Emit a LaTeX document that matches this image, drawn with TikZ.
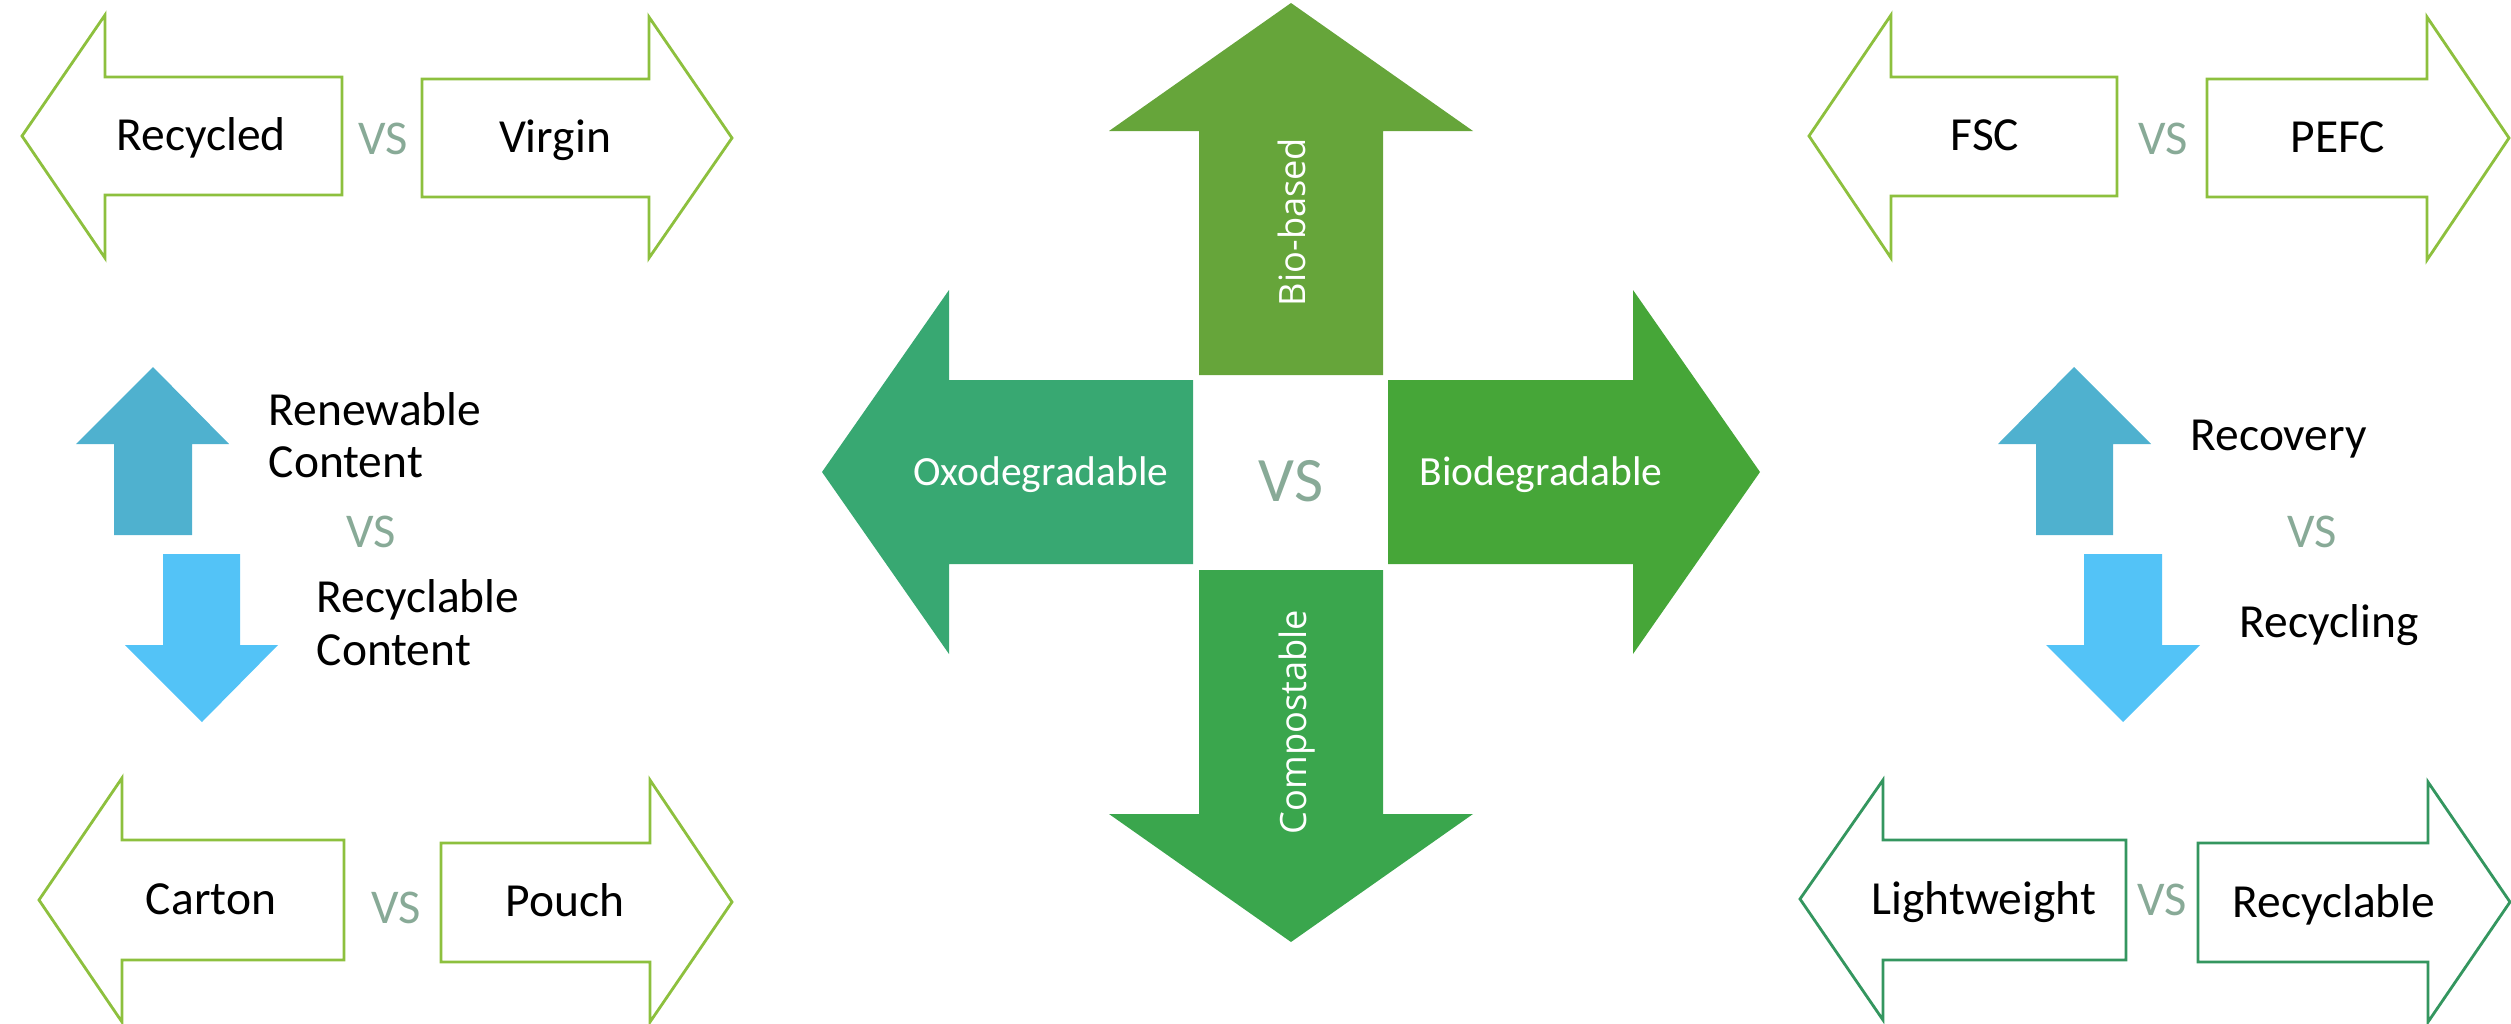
\documentclass[tikz,border=0pt]{standalone}
\usepackage{fontspec}
\setmainfont{Carlito}
\newfontfamily\rotfont{Open Sans}
\definecolor{limeline}{HTML}{8DC03E}
\definecolor{tealline}{HTML}{34965F}
\definecolor{biobased}{HTML}{66A53A}
\definecolor{compost}{HTML}{3AA64D}
\definecolor{oxo}{HTML}{38A872}
\definecolor{biodeg}{HTML}{46A638}
\definecolor{blueup}{HTML}{4FB1CF}
\definecolor{bluedown}{HTML}{53C3F7}
\definecolor{vsgrey}{HTML}{88AA97}
\begin{document}
\begin{tikzpicture}[x=0.01cm,y=-0.01cm,
  hollowarrow/.style={draw=#1, line width=0.8pt, line join=miter, fill=white},
  solidarrow/.style={fill=#1, draw=none},
  blacklabel/.style={inner sep=0pt, text=black, font=\fontsize{13.5}{14.8}\selectfont},
  vslabel/.style={inner sep=0pt, text=vsgrey, font=\fontsize{13.8}{15}\selectfont},
  bigvs/.style={inner sep=0pt, text=vsgrey, font=\fontsize{18}{20}\selectfont},
  whitelabel/.style={inner sep=0pt, text=white, font=\fontsize{11.8}{14}\selectfont},
  rotlabel/.style={inner sep=0pt, text=white, rotate=90, font=\rotfont\fontsize{10.3}{12}\selectfont}]
\useasboundingbox (0,0) rectangle (2511,1024);

% ---- top left: Recycled vs Virgin ----
\draw[hollowarrow=limeline] (342,77) -- (105,77) -- (105,15) -- (22,136) -- (105,258) -- (105,195) -- (342,195) -- cycle;
\draw[hollowarrow=limeline] (422,79) -- (649,79) -- (649,17) -- (732,138) -- (649,258) -- (649,197) -- (422,197) -- cycle;
\node[blacklabel, anchor=base] (recycled) at (201,150) {Recycled};
\node[blacklabel, anchor=base] (virgin) at (555,152) {Virgin};
\node[vslabel, anchor=base] (vs1) at (383,154) {VS};

% ---- top right: FSC vs PEFC ----
\draw[hollowarrow=limeline] (2117,77) -- (1891,77) -- (1891,15) -- (1809,136) -- (1891,258) -- (1891,196) -- (2117,196) -- cycle;
\draw[hollowarrow=limeline] (2207,79) -- (2427,79) -- (2427,17) -- (2509,138) -- (2427,260) -- (2427,197) -- (2207,197) -- cycle;
\node[blacklabel, anchor=base] (fsc) at (1985,150) {FSC};
\node[blacklabel, anchor=base] (pefc) at (2338,152) {PEFC};
\node[vslabel, anchor=base] (vs2) at (2163,154) {VS};

% ---- bottom left: Carton vs Pouch ----
\draw[hollowarrow=limeline] (344,840) -- (122,840) -- (122,778) -- (39,900) -- (122,1022) -- (122,960) -- (344,960) -- cycle;
\draw[hollowarrow=limeline] (441,843) -- (650,843) -- (650,780) -- (732,902) -- (650,1022) -- (650,962) -- (441,962) -- cycle;
\node[blacklabel, anchor=base] (carton) at (211,914) {Carton};
\node[blacklabel, anchor=base] (pouch) at (565,916) {Pouch};
\node[vslabel, anchor=base] (vs3) at (396,923) {VS};

% ---- bottom right: Lightweight vs Recyclable ----
\draw[hollowarrow=tealline] (2126,840) -- (1883,840) -- (1883,780) -- (1800,899) -- (1883,1020) -- (1883,960) -- (2126,960) -- cycle;
\draw[hollowarrow=tealline] (2198,843) -- (2428,843) -- (2428,782) -- (2510,902) -- (2428,1022) -- (2428,962) -- (2198,962) -- cycle;
\node[blacklabel, anchor=base] (lightweight) at (1984,914) {Lightweight};
\node[blacklabel, anchor=base] (recyclable) at (2334,917) {Recyclable};
\node[vslabel, anchor=base] (vs4) at (2162,915) {VS};

% ---- left middle: Renewable vs Recyclable content ----
\fill[solidarrow=blueup] (114,535) -- (114,444) -- (76,444) -- (153,367) -- (229,444) -- (192,444) -- (192,535) -- cycle;
\fill[solidarrow=bluedown] (163,554) -- (240,554) -- (240,645) -- (278,645) -- (202,722) -- (125,645) -- (163,645) -- cycle;
\node[blacklabel, anchor=base west] (renewable) at (268,425) {Renewable};
\node[blacklabel, anchor=base west] (renewcont) at (268,477) {Content};
\node[blacklabel, anchor=base west] (recycontent) at (316,612) {Recyclable};
\node[blacklabel, anchor=base west] (recycont) at (316,665) {Content};
\node[vslabel, anchor=base] (vs5) at (371,547) {VS};

% ---- right middle: Recovery vs Recycling ----
\fill[solidarrow=blueup] (2036,535) -- (2036,444) -- (1998,444) -- (2074,367) -- (2151,444) -- (2113,444) -- (2113,535) -- cycle;
\fill[solidarrow=bluedown] (2084,554) -- (2162,554) -- (2162,645) -- (2200,645) -- (2123,722) -- (2046,645) -- (2084,645) -- cycle;
\node[blacklabel, anchor=base west] (recovery) at (2190,450) {Recovery};
\node[blacklabel, anchor=base west] (recycling) at (2239,637) {Recycling};
\node[vslabel, anchor=base] (vs6) at (2312,547) {VS};

% ---- centre cross ----
\fill[solidarrow=biobased] (1199,375) -- (1199,131) -- (1109,131) -- (1291,3) -- (1473,131) -- (1383,131) -- (1383,375) -- cycle;
\fill[solidarrow=compost] (1199,570) -- (1383,570) -- (1383,814) -- (1473,814) -- (1291,942) -- (1109,814) -- (1199,814) -- cycle;
\fill[solidarrow=oxo] (1193,380) -- (949,380) -- (949,290) -- (822,472) -- (949,654) -- (949,564) -- (1193,564) -- cycle;
\fill[solidarrow=biodeg] (1388,380) -- (1633,380) -- (1633,290) -- (1760,472) -- (1633,654) -- (1633,564) -- (1388,564) -- cycle;
\node[rotlabel, anchor=base] (biobasedtxt) at (1305,222) {Bio-based};
\node[rotlabel, anchor=base] (compostxt) at (1306,722) {Compostable};
\node[whitelabel, anchor=base] (oxotxt) at (1041,485) {Oxodegradable};
\node[whitelabel, anchor=base] (biodegtxt) at (1541,485) {Biodegradable};
\node[bigvs, anchor=base] (vscentre) at (1291,501) {VS};
\end{tikzpicture}
\end{document}
